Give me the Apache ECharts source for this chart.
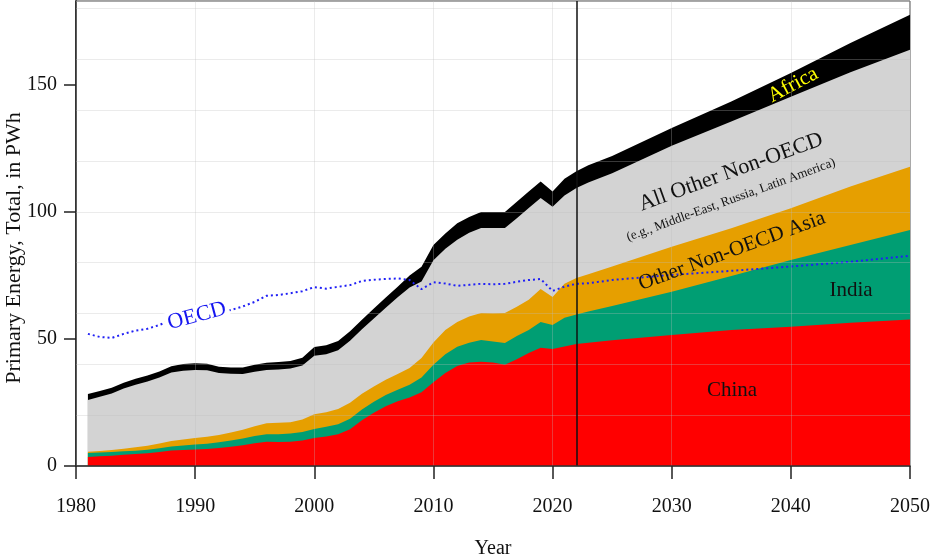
<!DOCTYPE html>
<html>
<head>
<meta charset="utf-8">
<script src="https://cdn.jsdelivr.net/npm/echarts@6/dist/echarts.min.js"></script>
<style>
    html, body { margin: 0; padding: 0; background: #fff; }
    #chart { width: 933px; height: 560px; }
</style>
</head>
<body>
<div id="chart"></div>
<script>
    // years: yearly history up to 2022, then the projection
    const years = [
        1981, 1982, 1983, 1984, 1985, 1986, 1987, 1988, 1989, 1990,
        1991, 1992, 1993, 1994, 1995, 1996, 1997, 1998, 1999, 2000,
        2001, 2002, 2003, 2004, 2005, 2006, 2007, 2008, 2009, 2010,
        2011, 2012, 2013, 2014, 2015, 2016, 2017, 2018, 2019, 2020,
        2021, 2022,
        2023, 2025, 2030, 2035, 2040, 2045, 2050
    ];
    // PWh per region (stacked bottom to top)
    const china = [
        3.5, 3.8, 4.0, 4.4, 4.7, 5.0, 5.5, 6.1, 6.3, 6.5,
        6.7, 7.1, 7.6, 8.2, 9.0, 9.5, 9.4, 9.5, 10.0, 11.0,
        11.6, 12.5, 14.5, 18.0, 21.0, 23.5, 25.5, 27.0, 29.0, 33.0,
        36.6, 39.4, 40.7, 41.0, 40.7, 39.8, 42.0, 44.5, 46.5, 46.0,
        47.0, 48.0,
        48.5, 49.5, 51.6, 53.5, 54.8, 56.4, 57.7
    ];
    const india = [
        1.6, 1.5, 1.5, 1.4, 1.3, 1.4, 1.5, 1.6, 1.8, 2.0,
        2.1, 2.2, 2.4, 2.6, 2.8, 3.0, 3.1, 3.3, 3.4, 3.6,
        3.8, 3.9, 4.1, 4.2, 4.3, 4.4, 4.5, 5.0, 5.8, 6.8,
        7.4, 7.5, 7.8, 8.6, 8.3, 8.6, 9.2, 9.0, 10.2, 9.5,
        11.3, 11.6,
        12.3, 13.5, 17.0, 21.3, 26.3, 30.6, 35.2
    ];
    const otherAsia = [
        0.5, 0.6, 0.8, 1.0, 1.4, 1.6, 1.9, 2.1, 2.3, 2.5,
        2.7, 2.9, 3.2, 3.5, 3.8, 4.3, 4.5, 4.4, 4.9, 5.8,
        5.8, 6.0, 6.3, 6.2, 6.0, 6.0, 6.2, 6.6, 7.7, 8.8,
        9.5, 9.8, 10.3, 10.6, 11.1, 11.8, 11.5, 11.9, 13.0, 11.0,
        13.4, 14.4,
        14.7, 15.5, 17.7, 18.8, 20.3, 23.0, 24.9
    ];
    const otherNonOecd = [
        20.4, 21.4, 22.2, 23.7, 24.6, 25.3, 25.9, 27.0, 27.1, 26.8,
        26.2, 24.4, 23.1, 21.9, 21.5, 21.0, 21.0, 21.2, 21.3, 23.0,
        22.8, 23.2, 24.4, 25.4, 26.7, 28.4, 30.2, 31.6, 30.1, 32.4,
        32.0, 32.3, 33.0, 33.5, 33.6, 33.5, 34.8, 36.1, 35.8, 35.5,
        34.8, 35.4,
        36.1, 36.7, 39.7, 42.0, 43.9, 45.0, 46.0
    ];
    const africa = [
        2.3, 2.2, 2.3, 2.3, 2.3, 2.3, 2.4, 2.5, 2.6, 2.6,
        2.5, 2.5, 2.5, 2.6, 2.7, 2.8, 2.9, 2.9, 3.0, 3.4,
        3.5, 3.6, 3.7, 3.8, 4.0, 4.0, 4.1, 4.8, 5.8, 6.0,
        6.0, 6.5, 6.2, 6.3, 6.3, 6.3, 6.5, 6.5, 6.5, 6.0,
        6.5, 6.6,
        6.8, 6.8, 7.0, 7.8, 9.4, 11.5, 13.8
    ];
    // OECD total, drawn as a dotted line (not stacked)
    const oecd = [
        52.0, 50.8, 50.4, 52.0, 53.3, 54.0, 55.5, 57.5, 58.3, 58.7,
        59.5, 60.3, 61.4, 62.8, 64.6, 67.0, 67.3, 68.0, 68.8, 70.4,
        69.8, 70.5, 71.2, 72.8, 73.3, 73.6, 73.8, 73.2, 69.6, 72.3,
        71.8, 70.9, 71.3, 71.7, 71.5, 71.7, 72.5, 73.2, 73.6, 68.9,
        70.6, 71.7,
        71.9, 73.2, 75.2, 76.8, 78.5, 80.4, 82.7
    ];
    const yTicks = [0, 50, 100, 150];
    const projectionStart = 2022;

    const serif = 'Liberation Serif';

    // stack by hand: each band is drawn as an area down to zero, topmost first
    const layers = [
        { name: 'China', values: china, color: '#FF0000' },
        { name: 'India', values: india, color: '#009E73' },
        { name: 'Other Non-OECD Asia', values: otherAsia, color: '#E69F00' },
        { name: 'All Other Non-OECD', values: otherNonOecd, color: '#D3D3D3' },
        { name: 'Africa', values: africa, color: '#000000' }
    ];
    let running = years.map(() => 0);
    layers.forEach(l => {
        running = running.map((v, i) => v + l.values[i]);
        l.top = running.slice();
    });

    const areaSeries = layers.slice().reverse().map(l => ({
        name: l.name,
        type: 'line',
        data: years.map((y, i) => [y, +l.top[i].toFixed(2)]),
        symbol: 'none',
        lineStyle: { width: 0 },
        areaStyle: { color: l.color, opacity: 1, origin: 'start' },
        itemStyle: { color: l.color },
        z: 2
    }));
    // vertical line where the projection starts
    areaSeries[areaSeries.length - 1].markLine = {
        silent: true,
        symbol: 'none',
        label: { show: false },
        lineStyle: { color: '#111', width: 1.5, type: 'solid' },
        data: [{ xAxis: projectionStart }]
    };

    const chart = echarts.init(document.getElementById('chart'), null, { renderer: 'canvas' });

    const option = {
        animation: false,
        backgroundColor: '#fff',
        textStyle: { fontFamily: serif },
        grid: {
            left: 76, right: 23, top: 1, bottom: 94,
            containLabel: false,
            outerBoundsMode: 'none',
            show: true, borderColor: '#444', borderWidth: 1,
            backgroundColor: 'transparent'
        },
        xAxis: {
            type: 'value',
            min: 1980, max: 2050, interval: 10,
            z: 5,
            name: 'Year',
            nameLocation: 'middle',
            nameGap: 73,
            nameTextStyle: { fontSize: 20, color: '#111', fontFamily: serif },
            axisLine: { show: true, lineStyle: { color: '#333', width: 1.5 } },
            axisTick: { show: true, inside: false, length: 13, lineStyle: { color: '#222', width: 1.5 } },
            axisLabel: { fontSize: 20, color: '#111', margin: 31, fontFamily: serif, formatter: v => String(v) },
            splitLine: { show: true, lineStyle: { color: 'rgba(190,190,190,0.3)', width: 1 } }
        },
        yAxis: [
            {
                type: 'value',
                min: 0, max: 183, interval: 50,
                axisLine: { show: true, lineStyle: { color: '#333', width: 2 } },
                axisTick: { show: true, length: 12, customValues: yTicks, lineStyle: { color: '#222', width: 1.5 } },
                axisLabel: { fontSize: 20, color: '#111', margin: 19, customValues: yTicks, fontFamily: serif },
                splitLine: { show: false }
            },
            {
                // only for the light 20-step grid
                type: 'value',
                min: 0, max: 183, interval: 20,
                position: 'left',
                z: 5,
                axisLine: { show: false },
                axisTick: { show: false },
                axisLabel: { show: false },
                splitLine: { show: true, lineStyle: { color: 'rgba(190,190,190,0.3)', width: 1 } }
            }
        ],
        series: areaSeries.concat([
            {
                name: 'OECD',
                type: 'line',
                data: years.map((y, i) => [y, oecd[i]]),
                symbol: 'none',
                z: 4,
                lineStyle: { color: '#2020F5', width: 2, type: [2, 3] }
            }
        ]),
        graphic: [
            {
                // y axis title, centred a little lower than the plot as in the original
                type: 'text', x: 14, y: 248, rotation: Math.PI / 2, z: 100,
                style: { text: 'Primary Energy, Total, in PWh', fill: '#111', font: '22px "Liberation Serif"', textAlign: 'center', textVerticalAlign: 'middle' }
            },
            {
                type: 'text', x: 197, y: 316, rotation: 15 * Math.PI / 180, z: 100,
                style: {
                    text: 'OECD', fill: '#1515F0', font: '22px "Liberation Serif"',
                    textAlign: 'center', textVerticalAlign: 'middle',
                    backgroundColor: '#fff', padding: [0, 3]
                }
            },
            {
                type: 'text', x: 793, y: 85, rotation: 28 * Math.PI / 180, z: 100,
                style: { text: 'Africa', fill: '#FFFF00', font: '21px "Liberation Serif"', textAlign: 'center', textVerticalAlign: 'middle' }
            },
            {
                type: 'text', x: 731, y: 172, rotation: 20 * Math.PI / 180, z: 100,
                style: { text: 'All Other Non-OECD', fill: '#111', font: '22px "Liberation Serif"', textAlign: 'center', textVerticalAlign: 'middle' }
            },
            {
                type: 'text', x: 731, y: 200, rotation: 20 * Math.PI / 180, z: 100,
                style: { text: '(e.g., Middle-East, Russia, Latin America)', fill: '#111', font: '13px "Liberation Serif"', textAlign: 'center', textVerticalAlign: 'middle' }
            },
            {
                type: 'text', x: 732, y: 251, rotation: 20 * Math.PI / 180, z: 100,
                style: { text: 'Other Non-OECD Asia', fill: '#111', font: '21px "Liberation Serif"', textAlign: 'center', textVerticalAlign: 'middle' }
            },
            {
                type: 'text', x: 851, y: 290, z: 100,
                style: { text: 'India', fill: '#111', font: '21px "Liberation Serif"', textAlign: 'center', textVerticalAlign: 'middle' }
            },
            {
                type: 'text', x: 732, y: 390, z: 100,
                style: { text: 'China', fill: '#111', font: '21px "Liberation Serif"', textAlign: 'center', textVerticalAlign: 'middle' }
            }
        ]
    };

    chart.setOption(option);
</script>
</body>
</html>
